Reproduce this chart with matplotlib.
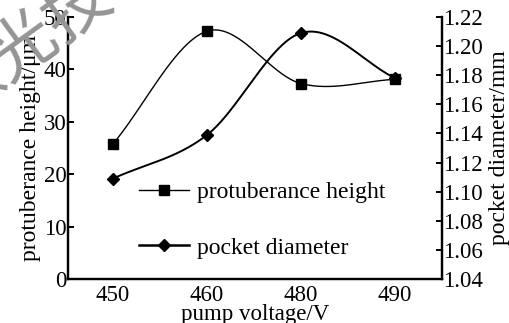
import numpy as np
import matplotlib
matplotlib.use('Agg')
import matplotlib.pyplot as plt

plt.rcParams['font.family'] = ['Liberation Serif', 'DejaVu Serif']

# data
voltages = ['450', '460', '480', '490']
height = [25.8, 47.3, 37.3, 38.1]          # protuberance height / um
diameter = [1.109, 1.139, 1.209, 1.178]    # pocket diameter / mm


def smooth(y, n=200):
    # Catmull-Rom curve through equally spaced points (index space)
    y = np.asarray(y, float)
    k = len(y)
    m = np.empty(k)
    m[1:-1] = (y[2:] - y[:-2]) / 2
    m[0] = y[1] - y[0]
    m[-1] = y[-1] - y[-2]
    xs = np.linspace(0, k - 1, n)
    ys = np.empty_like(xs)
    for j, x in enumerate(xs):
        i = min(int(x), k - 2)
        t = x - i
        h00 = 2 * t**3 - 3 * t**2 + 1
        h10 = t**3 - 2 * t**2 + t
        h01 = -2 * t**3 + 3 * t**2
        h11 = t**3 - t**2
        ys[j] = h00 * y[i] + h10 * m[i] + h01 * y[i + 1] + h11 * m[i + 1]
    return xs, ys


fig = plt.figure(figsize=(5.1, 3.23), dpi=100)
ax = fig.add_axes([68 / 510, 1 - 279 / 323, 374 / 510, 262 / 323])
ax2 = ax.twinx()
ax.patch.set_alpha(0)
ax2.patch.set_alpha(0)

x = np.arange(len(voltages))

xs, ys = smooth(height)
ax.plot(xs, ys, color='black', lw=1.0)
ax.plot(x, height, 's', color='black', ms=7.5)

xs, ys = smooth(diameter)
ax2.plot(xs, ys, color='black', lw=1.4)
ax2.plot(x, diameter, 'D', color='black', ms=6.5)

# legend proxies
h1, = ax.plot([], [], '-s', color='black', lw=1.0, ms=7.5)
h2, = ax.plot([], [], '-D', color='black', lw=1.8, ms=6.5)
ax.legend([h1, h2], ['protuberance height', 'pocket diameter'],
          loc='center left', bbox_to_anchor=(0.19, 0.225), frameon=False,
          fontsize=17, handlelength=2.1, handletextpad=0.35,
          labelspacing=1.45, borderpad=0, borderaxespad=0)

ax.set_xlim(-0.48, 3.5)
ax.set_ylim(0, 50)
ax2.set_ylim(1.04, 1.22)
ax.set_xticks(x)
ax.set_xticklabels(voltages)
ax.set_yticks([0, 10, 20, 30, 40, 50])
ticks2 = np.round(np.arange(1.04, 1.2201, 0.02), 2)
ax2.set_yticks(ticks2)
ax2.set_yticklabels(['%.2f' % v for v in ticks2])

for a in (ax, ax2):
    a.spines['top'].set_visible(False)
    for s in a.spines.values():
        s.set_linewidth(1.6)
ax.tick_params(axis='x', length=0, labelsize=16.5, pad=4)
ax.tick_params(axis='y', direction='in', length=4, width=1.4, labelsize=16.5, pad=1)
ax2.tick_params(axis='y', direction='in', length=4, width=1.4, labelsize=16.5, pad=1)

ax.set_xlabel('pump voltage/V', fontsize=16.5, labelpad=-1)
ax.set_ylabel('protuberance height/μm', fontsize=17, labelpad=2)
ax2.set_ylabel('pocket diameter/mm', fontsize=17, labelpad=4)

# watermark, behind the axes
fig.text(0.1, 0.915, '激光技术', fontsize=48, color='#959595', rotation=36,
         rotation_mode='anchor', ha='center', va='center',
         family=['Noto Sans CJK SC'], zorder=0)

fig.savefig('out.png', dpi=100)
